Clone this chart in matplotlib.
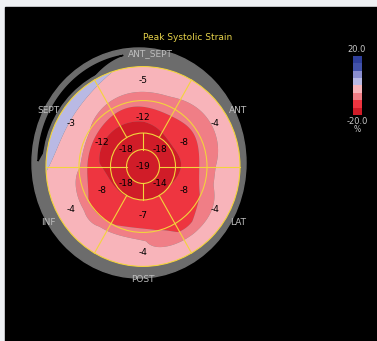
import numpy as np
import matplotlib
matplotlib.use("Agg")
import matplotlib.pyplot as plt
import matplotlib as mpl
from matplotlib.patches import Ellipse, Polygon, Rectangle
from matplotlib.colors import ListedColormap, BoundaryNorm

plt.rcParams['font.family'] = ['Liberation Sans Narrow', 'DejaVu Sans']

title = "Peak Systolic Strain"

# wall names and the angle (deg, counter-clockwise from right) of each wall
wall_labels = ["ANT_SEPT", "ANT", "LAT", "POST", "INF", "SEPT"]
wall_angles = [90, 30, -30, -90, -150, 150]

# segment values, same wall order
basal = [-5, -4, -4, -4, -4, -3]
mid = [-12, -8, -8, -7, -8, -12]
apical_angles = [45, 135, 225, 315]
apical = [-18, -18, -18, -14]
apex = -19

# strain map: rows = angle, columns = radius (fraction of bullseye)
map_angles = [0, 30, 60, 90, 120, 150, 180, 210, 240, 270, 300, 330]
map_radii = [0.15, 0.30, 0.45, 0.55, 0.65, 0.75, 0.85, 1.0]
strain_map = [
    [-17.6, -16.1, -14.3, -10.9, -7.9, -5.0, -3.6, -2.0],
    [-17.5, -15.9, -13.9, -11.5, -9.2, -6.4, -4.4, -3.0],
    [-17.6, -16.1, -14.3, -10.9, -8.1, -5.3, -4.1, -2.8],
    [-17.6, -16.3, -15.0, -11.6, -8.2, -4.9, -3.4, -1.6],
    [-17.7, -16.4, -15.7, -12.0, -8.0, -4.2, -1.6, 1.2],
    [-17.7, -16.4, -15.9, -11.7, -4.8, -2.7, -0.6, 2.6],
    [-17.6, -16.1, -14.8, -11.6, -4.9, -3.2, -1.6, 0.4],
    [-17.4, -15.8, -13.7, -11.9, -10.0, -4.7, -3.9, -3.0],
    [-17.3, -15.6, -13.4, -11.9, -10.3, -4.6, -4.1, -3.0],
    [-17.2, -15.5, -13.2, -11.5, -9.4, -4.6, -4.0, -3.0],
    [-17.2, -15.4, -13.6, -12.4, -11.3, -10.1, -4.9, -3.5],
    [-17.3, -15.6, -13.5, -12.0, -10.5, -7.1, -4.4, -3.0],
]

levels = [-20, -15, -10, -5, 0, 5, 10, 15, 20]
level_colors = ["#d01c28", "#ee3540", "#f07e86", "#f8b4ba",
                "#b9b9e4", "#8a8ed0", "#4252aa", "#30409c"]

# geometry (pixels)
cx, cy = 143, 166.5
R = 97
ky = 1.03
ring_r = [0.17, 0.335, 0.66, 1.0]
yellow = "#f3d43c"
shell_gray = "#6c6c6c"


def pt(r, ang):
    a = np.deg2rad(ang)
    return cx + R * r * np.cos(a), cy - R * ky * r * np.sin(a)


def periodic(vals, theta):
    # smooth periodic (trigonometric) interpolation of equally spaced samples
    n = len(vals)
    c = np.fft.fft(vals) / n
    k = np.fft.fftfreq(n, 1.0 / n)
    out = np.zeros_like(theta)
    for ck, kk in zip(c, k):
        if abs(kk) == n / 2:
            out += np.real(ck) * np.cos(kk * theta)
        else:
            out += np.real(ck * np.exp(1j * kk * theta))
    return out


fig = plt.figure(figsize=(3.77, 3.41), dpi=100)
fig.patch.set_facecolor("#eff1f4")
ax = fig.add_axes([0, 0, 1, 1])
ax.set_xlim(0, 377)
ax.set_ylim(341, 0)
ax.axis("off")
ax.add_patch(Rectangle((5, 7), 372, 334, color="black", zorder=0))

# grey shell round the bullseye, with the dark gap on the septal side
sx, sy, sa, sb = 139, 163, 107, 115
ax.add_patch(Ellipse((sx, sy), 2 * sa, 2 * sb, color=shell_gray, zorder=1))
psi = np.linspace(np.deg2rad(99), np.deg2rad(179), 80)
t = (psi - psi[0]) / (psi[-1] - psi[0])
w = 18 * np.sin(np.pi * t ** 1.3)
outer = np.c_[sx + (sa - 6) * np.cos(psi), sy - (sb - 6) * np.sin(psi)]
inner = np.c_[sx + (sa - 6 - w) * np.cos(psi), sy - (sb - 6 - w) * np.sin(psi)]
ax.add_patch(Polygon(np.r_[outer, inner[::-1]], closed=True, color="black", zorder=2))
ax.add_patch(Ellipse((cx, cy), 2 * R + 6, 2 * R * ky + 6, color=shell_gray, zorder=2.5))

# strain map on a fine polar mesh
sm = np.array(strain_map)
th = np.linspace(0, 2 * np.pi, 721)
rf = np.linspace(0, 1.0, 200)
cols = np.array([periodic(sm[:, j], th) for j in range(len(map_radii))])
rr_s = np.r_[0.0, map_radii]
Z = np.empty((len(th), len(rf)))
for i in range(len(th)):
    Z[i] = np.interp(rf, rr_s, np.r_[apex, cols[:, i]])
TH, RF = np.meshgrid(th, rf, indexing="ij")
X = cx + R * RF * np.cos(TH)
Y = cy - R * ky * RF * np.sin(TH)
ax.contourf(X, Y, np.clip(Z, -19.99, 19.99), levels=levels, colors=level_colors,
            antialiased=True, zorder=3)

# segment outlines
for rr in ring_r:
    ax.add_patch(Ellipse((cx, cy), 2 * R * rr, 2 * R * ky * rr, facecolor="none",
                         edgecolor=yellow, lw=0.8, zorder=4))
for ang in range(0, 360, 60):
    xa, ya = pt(ring_r[1], ang)
    xb, yb = pt(ring_r[3], ang)
    ax.plot([xa, xb], [ya, yb], color=yellow, lw=0.8, zorder=4)
for ang in range(0, 360, 90):
    xa, ya = pt(ring_r[0], ang)
    xb, yb = pt(ring_r[1], ang)
    ax.plot([xa, xb], [ya, yb], color=yellow, lw=0.8, zorder=4)

# values
fs = 6.5
for ang, v in zip(wall_angles, basal):
    x, y = pt(0.86, ang)
    ax.text(x, y, str(v), ha="center", va="center", fontsize=fs, color="black", zorder=5)
for ang, v in zip(wall_angles, mid):
    x, y = pt(0.49, ang)
    ax.text(x, y, str(v), ha="center", va="center", fontsize=fs, color="black", zorder=5)
for ang, v in zip(apical_angles, apical):
    x, y = pt(0.245, ang)
    ax.text(x, y, str(v), ha="center", va="center", fontsize=fs, color="black", zorder=5)
ax.text(cx, cy, str(apex), ha="center", va="center", fontsize=fs, color="black", zorder=5)

# wall names
for ang, name in zip(wall_angles, wall_labels):
    x, y = pt(1.13, ang)
    if name == "ANT_SEPT":
        x += 7
    ax.text(x, y, name, ha="center", va="center", fontsize=6.5, color="#bdbdbd", zorder=5)

ax.text(188, 38, title, ha="center", va="center", fontsize=6.5, color="#e6d24a")

# colour scale
cax = fig.add_axes([353 / 377, 1 - 115 / 341, 9 / 377, 59 / 341])
cmap = ListedColormap(level_colors)
norm = BoundaryNorm(levels, cmap.N)
cb = mpl.colorbar.ColorbarBase(cax, cmap=cmap, norm=norm, orientation="vertical")
cb.outline.set_visible(False)
cb.set_ticks([])
ax.text(357, 50, "20.0", ha="center", va="center", fontsize=6, color="#c8c8c8")
ax.text(357, 121, "-20.0", ha="center", va="center", fontsize=6, color="#c8c8c8")
ax.text(357, 130, "%", ha="center", va="center", fontsize=5.5, color="#c8c8c8")

fig.savefig("out.png", dpi=100, facecolor=fig.get_facecolor())
